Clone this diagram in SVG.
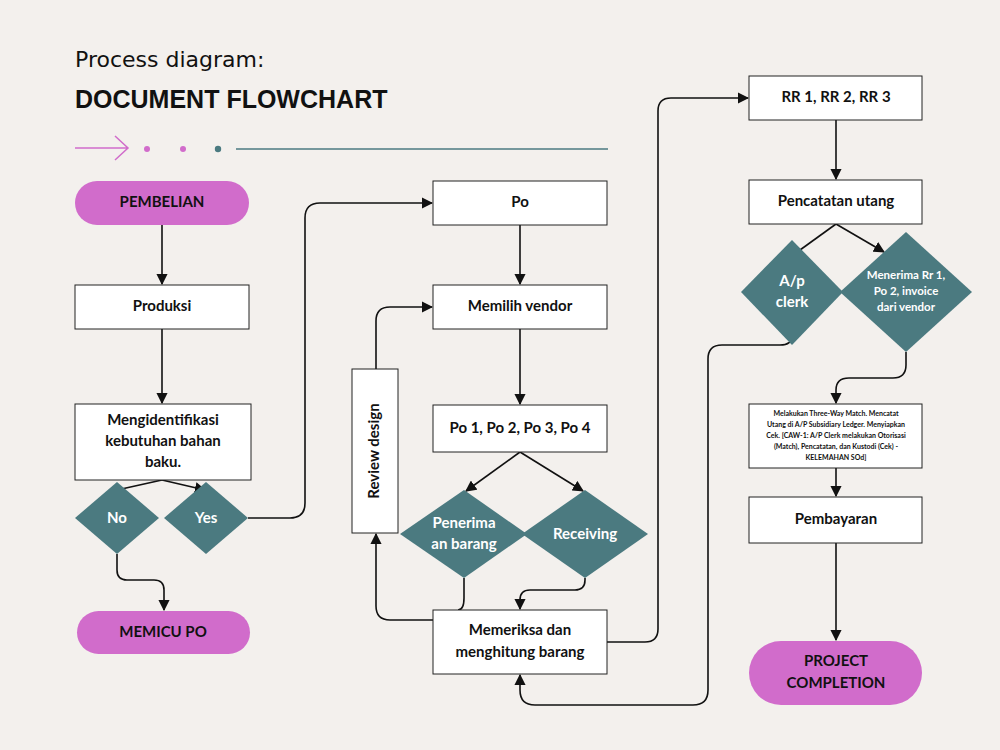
<svg xmlns="http://www.w3.org/2000/svg" width="1000" height="750" viewBox="0 0 1000 750">
<style>
text{font-family:Lato,"Liberation Sans",sans-serif;font-weight:bold;text-anchor:middle;dominant-baseline:middle}
.box{fill:#fff;stroke:#222;stroke-width:1}
.pill{fill:#d16ccb}
.dia{fill:#4b7a80}
.t{font-size:15px;fill:#111}
.w{font-size:15px;fill:#fff}
.c{fill:none;stroke:#111;stroke-width:1.6}
</style>
<defs><marker id="a" viewBox="0 0 10 10" refX="9" refY="5" markerWidth="7" markerHeight="7" orient="auto"><path d="M0 0L10 5L0 10z" fill="#111"/></marker></defs>
<rect width="1000" height="750" fill="#f3f0ed"/>
<text x="75" y="61" style="font-family:'DejaVu Sans',sans-serif;font-weight:normal;font-size:22px;text-anchor:start;fill:#111">Process diagram:</text>
<text x="75" y="101" style="font-size:25px;text-anchor:start;fill:#111;font-family:'Liberation Sans',sans-serif">DOCUMENT FLOWCHART</text>
<g fill="none" stroke="#d16ccb" stroke-width="1.5"><path d="M75 148H128M115 136L128 148L115 160"/></g>
<circle cx="147" cy="149" r="3" fill="#d16ccb"/><circle cx="183" cy="149" r="3" fill="#d16ccb"/><circle cx="218" cy="149" r="3.2" fill="#4b7a80"/>
<path d="M236 149H608" stroke="#4b7a80" stroke-width="1.6"/>
<g id="connectors">
<path class="c" d="M162 225V284" marker-end="url(#a)"/>
<path class="c" d="M162 329V403" marker-end="url(#a)"/>
<path class="c" d="M162 480L117 490" /><path class="c" d="M162 480L205 490" marker-end="url(#a)"/>
<path class="c" d="M117 554V570Q117 580 127 580H154Q164 580 164 590V610" marker-end="url(#a)"/>
<path class="c" d="M248 518H290Q305 518 305 503V218Q305 203 320 203H432" marker-end="url(#a)"/>
<path class="c" d="M520 225V284" marker-end="url(#a)"/>
<path class="c" d="M520 329V404" marker-end="url(#a)"/>
<path class="c" d="M520 452L466 491" marker-end="url(#a)"/><path class="c" d="M520 452L583 491" marker-end="url(#a)"/>
<path class="c" d="M464 578V598Q464 610 458 610"/>
<path class="c" d="M585 578V580Q585 590 575 590H530Q520 590 520 600V609" marker-end="url(#a)"/>
<path class="c" d="M433 620H390Q376 620 376 606V534" marker-end="url(#a)"/>
<path class="c" d="M376 369V321Q376 307 390 307H432" marker-end="url(#a)"/>
<path class="c" d="M607 642H645Q658 642 658 629V111Q658 98 671 98H748" marker-end="url(#a)"/>
<path class="c" d="M792 336Q792 345 780 345H722Q708 345 708 359V690Q708 705 693 705H535Q520 705 520 690V675" marker-end="url(#a)"/>
<path class="c" d="M836 120V179" marker-end="url(#a)"/>
<path class="c" d="M836 224L800 250"/><path class="c" d="M836 224L884 252" marker-end="url(#a)"/>
<path class="c" d="M906 352V365Q906 378 893 378H849Q836 378 836 390V403" marker-end="url(#a)"/>
<path class="c" d="M836 468V496" marker-end="url(#a)"/>
<path class="c" d="M836 543V640" marker-end="url(#a)"/>
</g>
<g id="pembelian"><rect class="pill" x="75" y="181" width="174" height="44" rx="22"/><text class="t" x="162" y="203">PEMBELIAN</text></g>
<g id="produksi"><rect class="box" x="75" y="285" width="174" height="44"/><text class="t" x="162" y="307">Produksi</text></g>
<g id="mengidentifikasi"><rect class="box" x="75" y="404" width="176" height="76"/><text class="t" x="163" y="421">Mengidentifikasi</text><text class="t" x="163" y="442">kebutuhan bahan</text><text class="t" x="163" y="463">baku.</text></g>
<g id="no"><path class="dia" d="M117 482L159 518L117 554L75 518z"/><text class="w" x="117" y="519">No</text></g>
<g id="yes"><path class="dia" d="M206 482L248 518L206 554L164 518z"/><text class="w" x="206" y="519">Yes</text></g>
<g id="memicu"><rect class="pill" x="77" y="611" width="173" height="43" rx="21.5"/><text class="t" x="163" y="633">MEMICU PO</text></g>
<g id="po"><rect class="box" x="433" y="181" width="174" height="44"/><text class="t" x="520" y="203">Po</text></g>
<g id="vendor"><rect class="box" x="433" y="285" width="174" height="44"/><text class="t" x="520" y="307">Memilih vendor</text></g>
<g id="po1234"><rect class="box" x="433" y="405" width="174" height="47"/><text class="t" x="520" y="429">Po 1, Po 2, Po 3, Po 4</text></g>
<g id="penerimaan"><path class="dia" d="M464 490L527 534L464 578L400 534z"/><text class="w" x="464" y="524">Penerima</text><text class="w" x="464" y="545">an barang</text></g>
<g id="receiving"><path class="dia" d="M585 490L648 534L585 578L522 534z"/><text class="w" x="585" y="535">Receiving</text></g>
<g id="memeriksa"><rect class="box" x="433" y="610" width="174" height="64"/><text class="t" x="520" y="631">Memeriksa dan</text><text class="t" x="520" y="653">menghitung barang</text></g>
<g id="review"><rect class="box" x="352" y="369" width="46" height="164"/><text class="t" transform="translate(375 451) rotate(-90)">Review design</text></g>
<g id="rr"><rect class="box" x="749" y="76" width="173" height="44"/><text class="t" x="836" y="98">RR 1, RR 2, RR 3</text></g>
<g id="pencatatan"><rect class="box" x="749" y="180" width="173" height="44"/><text class="t" x="836" y="202">Pencatatan utang</text></g>
<g id="apclerk"><path class="dia" d="M792 240L843 292L792 345L741 292z"/><text class="w" x="792" y="282">A/p</text><text class="w" x="792" y="303">clerk</text></g>
<g id="menerima"><path class="dia" d="M906 232L972 292L906 352L840 292z"/><text class="w" x="906" y="276" style="font-size:11.5px">Menerima Rr 1,</text><text class="w" x="906" y="292" style="font-size:11.5px">Po 2, invoice</text><text class="w" x="906" y="308" style="font-size:11.5px">dari vendor</text></g>
<g id="threeway"><rect class="box" x="749" y="404" width="173" height="64"/>
<g style="font-size:7px" fill="#111"><text x="836" y="414" style="font-size:7px">Melakukan Three-Way Match. Mencatat</text><text x="836" y="425" style="font-size:7px">Utang di A/P Subsidiary Ledger. Menyiapkan</text><text x="836" y="436" style="font-size:7px">Cek. [CAW-1: A/P Clerk melakukan Otorisasi</text><text x="836" y="447" style="font-size:7px">(Match), Pencatatan, dan Kustodi (Cek) -</text><text x="836" y="458" style="font-size:7px">KELEMAHAN SOd]</text></g></g>
<g id="pembayaran"><rect class="box" x="749" y="497" width="173" height="46"/><text class="t" x="836" y="520">Pembayaran</text></g>
<g id="project"><rect class="pill" x="749" y="641" width="173" height="64" rx="32"/><text class="t" x="836" y="662">PROJECT</text><text class="t" x="836" y="684">COMPLETION</text></g>
</svg>
